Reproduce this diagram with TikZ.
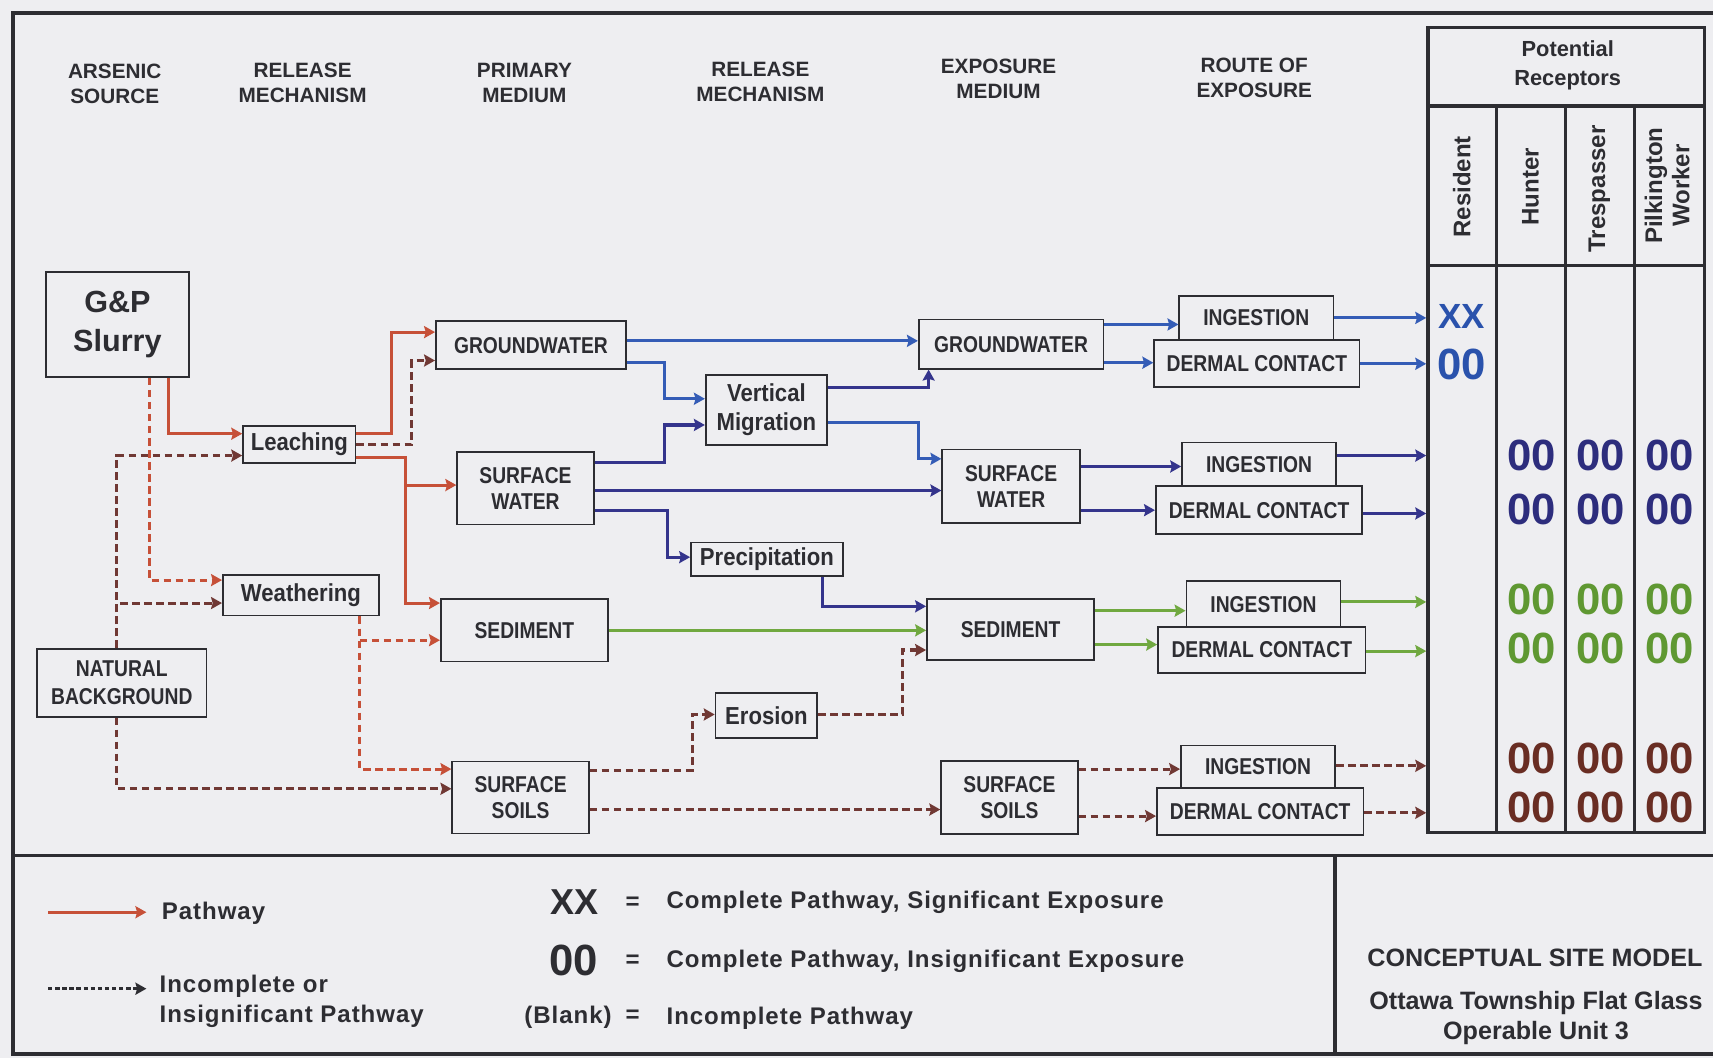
\documentclass[tikz,border=0pt]{standalone}
\usepackage{fontspec}
\setmainfont{Liberation Sans}
\newfontfamily\narrowfont{Liberation Sans}[FakeStretch=0.84]
\newfontfamily\mechfont{Liberation Sans}[FakeStretch=0.9]
\newfontfamily\spacedfont{Liberation Sans}[LetterSpace=4]
\usetikzlibrary{arrows.meta}

\definecolor{bgcol}{RGB}{238,238,241}
\definecolor{ink}{RGB}{45,45,50}
\definecolor{pathred}{RGB}{198,80,56}
\definecolor{incbrown}{RGB}{112,56,52}
\definecolor{gwblue}{RGB}{52,92,182}
\definecolor{swnavy}{RGB}{52,52,140}
\definecolor{sedgreen}{RGB}{112,168,64}
\definecolor{numblue}{RGB}{42,82,172}
\definecolor{numnavy}{RGB}{45,45,125}
\definecolor{numgreen}{RGB}{95,152,50}
\definecolor{numbrown}{RGB}{105,45,35}

\begin{document}
\begin{tikzpicture}[x=1pt, y=-1pt, >={Stealth[length=10pt,width=11pt,inset=1.5pt]},
    every node/.style={inner sep=0pt, text=ink},
    box/.style={draw=ink, line width=1.6pt, align=center, font=\narrowfont\fontsize{21}{24}\selectfont\bfseries},
    mech/.style={box, font=\mechfont\fontsize{22.5}{27}\selectfont\bfseries},
    head/.style={align=center, font=\fontsize{19}{23}\selectfont\bfseries},
    tbl/.style={draw=ink, line width=3pt},
    colhd/.style={rotate=90, align=center, font=\fontsize{22}{25}\selectfont\bfseries},
    num/.style={font=\fontsize{40}{42}\selectfont\bfseries},
    legtxt/.style={font=\spacedfont\fontsize{22}{27}\selectfont\bfseries},
    ttl/.style={align=center, font=\fontsize{23}{28}\selectfont\bfseries},
    link/.style={line width=2.8pt},
    pw/.style={link, pathred},
    pwd/.style={link, pathred, dash pattern=on 7pt off 4pt},
    bgd/.style={link, incbrown, dash pattern=on 7pt off 4pt},
    gw/.style={link, gwblue},
    sw/.style={link, swnavy},
    sd/.style={link, sedgreen},
    frame/.style={line width=3.5pt, ink}
  ]

  \useasboundingbox (0,0) rectangle (1568,968);
  \fill[bgcol] (0,0) rectangle (1568,968);

  % outer frame and legend divider
  \draw[frame] (1568,12) -- (12,12) -- (12,965) -- (1568,965);
  \draw[frame] (12,783) -- (1568,783);
  \draw[frame] (1222,783) -- (1222,965);

  % column headings
  \node[head] (hSrc) at (105,77) {ARSENIC\\SOURCE};
  \node[head] (hRel1) at (277,76) {RELEASE\\MECHANISM};
  \node[head] (hPrim) at (480,76) {PRIMARY\\MEDIUM};
  \node[head] (hRel2) at (696,75) {RELEASE\\MECHANISM};
  \node[head] (hExp) at (914,72) {EXPOSURE\\MEDIUM};
  \node[head] (hRoute) at (1148,71) {ROUTE OF\\EXPOSURE};

  % sources and release mechanisms
  \node[box, minimum width=131, minimum height=96, font=\fontsize{28}{35}\selectfont\bfseries] (slurry) at (107.5,297) {G\&P\\Slurry};
  \node[box, minimum width=155, minimum height=62, font=\narrowfont\fontsize{21}{26}\selectfont\bfseries] (natbg) at (111.5,625) {NATURAL\\BACKGROUND};
  \node[mech, minimum width=103, minimum height=34] (leach) at (274,407) {Leaching};
  \node[mech, minimum width=143, minimum height=37] (weath) at (275.5,545) {Weathering};

  % primary media
  \node[box, minimum width=174, minimum height=44] (gwP) at (486,316) {GROUNDWATER};
  \node[box, minimum width=125, minimum height=66] (swP) at (481,447) {SURFACE\\WATER};
  \node[box, minimum width=153, minimum height=57] (sedP) at (480,577) {SEDIMENT};
  \node[box, minimum width=125, minimum height=66] (ssP) at (476.5,730) {SURFACE\\SOILS};

  % secondary release mechanisms
  \node[mech, minimum width=111, minimum height=64] (vmig) at (701.5,375) {Vertical\\Migration};
  \node[mech, minimum width=139, minimum height=31] (precip) at (702,512) {Precipitation};
  \node[mech, minimum width=93, minimum height=41] (eros) at (701.5,655) {Erosion};

  % exposure media
  \node[box, minimum width=169, minimum height=45] (gwE) at (925.5,315) {GROUNDWATER};
  \node[box, minimum width=126, minimum height=67] (swE) at (925.5,445) {SURFACE\\WATER};
  \node[box, minimum width=153, minimum height=56] (sedE) at (925,576) {SEDIMENT};
  \node[box, minimum width=125, minimum height=67] (ssE) at (924,730) {SURFACE\\SOILS};

  % routes of exposure
  \node[box, minimum width=141, minimum height=40] (ing1) at (1150,291) {INGESTION};
  \node[box, minimum width=188, minimum height=43] (derm1) at (1150.5,333) {DERMAL CONTACT};
  \node[box, minimum width=141, minimum height=40] (ing2) at (1152.5,425) {INGESTION};
  \node[box, minimum width=189, minimum height=44] (derm2) at (1152.5,467) {DERMAL CONTACT};
  \node[box, minimum width=141, minimum height=42] (ing3) at (1156.5,553) {INGESTION};
  \node[box, minimum width=190, minimum height=42] (derm3) at (1155,595) {DERMAL CONTACT};
  \node[box, minimum width=141, minimum height=39] (ing4) at (1151.5,702) {INGESTION};
  \node[box, minimum width=189, minimum height=43] (derm4) at (1153.5,743) {DERMAL CONTACT};

  % receptor table
  \node[tbl, minimum width=253, minimum height=737] (rcpt) at (1433.5,393.5) {};
  \draw[tbl] (rcpt.west |- 0,97) -- (rcpt.east |- 0,97);
  \draw[tbl] (rcpt.west |- 0,243) -- (rcpt.east |- 0,243);
  \foreach \x in {1370,1433,1496}
    \draw[tbl] (\x,97) -- (rcpt.south -| \x,0);
  \node[align=center, font=\fontsize{20}{27}\selectfont\bfseries] (potrec) at (1435,60) {Potential\\Receptors};
  \node[colhd] (cRes) at (1338,171) {Resident};
  \node[colhd] (cHun) at (1401,171) {Hunter};
  \node[colhd] (cTre) at (1464,173) {Trespasser};
  \node[colhd] (cPil) at (1526,170) {Pilkington\\Worker};

  \node[num, text=numblue, font=\fontsize{32}{36}\selectfont\bfseries] (xxRes) at (1338,290) {XX};
  \node[num, text=numblue] (zzRes) at (1338,334) {00};
  \foreach \y/\c in {417/numnavy, 466/numnavy, 549/numgreen, 594/numgreen, 694/numbrown, 739/numbrown}
    \foreach \x in {1402,1465,1528}
      \node[num, text=\c] (z\x-\y) at (\x,\y) {00};

  % sources -> release
  \draw[pw,->] (slurry.south -| 154,0) |- (leach.west |- 0,397);
  \draw[pwd,->] (slurry.south -| 137,0) |- (weath.west |- 0,531);
  \draw[bgd,->] (natbg.north -| 107,0) |- (leach.west |- 0,417);
  \draw[bgd,->] (natbg.north -| 107,0) |- (weath.west |- 0,552);
  \draw[bgd,->] (natbg.south -| 107,0) |- (ssP.west |- 0,722);

  % release -> primary media
  \draw[pw,->] (leach.east |- 0,397) -- (358,397) |- (gwP.west |- 0,304);
  \draw[bgd,->] (leach.east |- 0,407) -- (377,407) |- (gwP.west |- 0,330);
  \draw[pw,->] (leach.east |- 0,419) -- (371,419) |- (swP.west |- 0,444);
  \draw[pw,->] (leach.east |- 0,419) -- (371,419) |- (sedP.west |- 0,552);
  \draw[pwd,->] (weath.south -| 329,0) |- (sedP.west |- 0,586);
  \draw[pwd,->] (weath.south -| 329,0) |- (ssP.west |- 0,704);

  % primary media -> exposure media
  \draw[gw,->] (gwP.east |- 0,312) -- (gwE.west |- 0,312);
  \draw[gw,->] (gwP.east |- 0,332) -- (608,332) |- (vmig.west |- 0,365);
  \draw[sw,->] (swP.east |- 0,423) -- (608,423) |- (vmig.west |- 0,389);
  \draw[sw,->] (swP.east |- 0,449) -- (swE.west |- 0,449);
  \draw[sw,->] (swP.east |- 0,467) -- (611,467) |- (precip.west |- 0,510);
  \draw[sd,->] (sedP.east |- 0,577) -- (sedE.west |- 0,577);
  \draw[bgd,->] (ssP.east |- 0,705) -- (634,705) |- (eros.west |- 0,654);
  \draw[bgd,->] (ssP.east |- 0,741) -- (ssE.west |- 0,741);
  \draw[sw,->] (vmig.east |- 0,355) -| (gwE.south -| 850,0);
  \draw[gw,->] (vmig.east |- 0,387) -- (841,387) |- (swE.west |- 0,420);
  \draw[sw,->] (precip.south -| 753,0) |- (sedE.west |- 0,555);
  \draw[bgd,->] (eros.east |- 0,654) -- (826,654) |- (sedE.west |- 0,595);

  % exposure media -> routes
  \draw[gw,->] (gwE.east |- 0,297) -- (ing1.west |- 0,297);
  \draw[gw,->] (gwE.east |- 0,332) -- (derm1.west |- 0,332);
  \draw[sw,->] (swE.east |- 0,427) -- (ing2.west |- 0,427);
  \draw[sw,->] (swE.east |- 0,467) -- (derm2.west |- 0,467);
  \draw[sd,->] (sedE.east |- 0,559) -- (ing3.west |- 0,559);
  \draw[sd,->] (sedE.east |- 0,590) -- (derm3.west |- 0,590);
  \draw[bgd,->] (ssE.east |- 0,704) -- (ing4.west |- 0,704);
  \draw[bgd,->] (ssE.east |- 0,747) -- (derm4.west |- 0,747);

  % routes -> receptors
  \draw[gw,->] (ing1.east |- 0,291) -- (rcpt.west |- 0,291);
  \draw[gw,->] (derm1.east |- 0,333) -- (rcpt.west |- 0,333);
  \draw[sw,->] (ing2.east |- 0,417) -- (rcpt.west |- 0,417);
  \draw[sw,->] (derm2.east |- 0,470) -- (rcpt.west |- 0,470);
  \draw[sd,->] (ing3.east |- 0,551) -- (rcpt.west |- 0,551);
  \draw[sd,->] (derm3.east |- 0,596) -- (rcpt.west |- 0,596);
  \draw[bgd,->] (ing4.east |- 0,701) -- (rcpt.west |- 0,701);
  \draw[bgd,->] (derm4.east |- 0,744) -- (rcpt.west |- 0,744);

  % legend
  \node[legtxt, anchor=west] (legpw) at (148,836) {Pathway};
  \coordinate (legA) at (44,835);
  \draw[pw,->] (legA) -- ([xshift=-14pt]legpw.west |- legA);
  \node[legtxt, anchor=west, align=left] (leginc) at (146,916.5) {Incomplete or\\Insignificant Pathway};
  \coordinate (legB) at (44,905);
  \draw[link, ink, dash pattern=on 4pt off 2.5pt, ->] (legB) -- ([xshift=-12pt]leginc.west |- legB);

  \node[num, font=\fontsize{33}{36}\selectfont\bfseries] (lxx) at (526,826) {XX};
  \node[num] (l00) at (525,879) {00};
  \node[legtxt] (lblank) at (520,931) {(Blank)};
  \node[legtxt] (leq1) at (579,827) {=};
  \node[legtxt] (leq2) at (579,880) {=};
  \node[legtxt] (leq3) at (579,930) {=};
  \node[legtxt, anchor=west] (lsig) at (610,826) {Complete Pathway, Significant Exposure};
  \node[legtxt, anchor=west] (lins) at (610,880) {Complete Pathway, Insignificant Exposure};
  \node[legtxt, anchor=west] (linc) at (610,932) {Incomplete Pathway};

  % title block
  \node[ttl] (csm) at (1405,877) {CONCEPTUAL SITE MODEL};
  \node[ttl] (site) at (1406,932) {Ottawa Township Flat Glass\\Operable Unit 3};

\end{tikzpicture}
\end{document}
